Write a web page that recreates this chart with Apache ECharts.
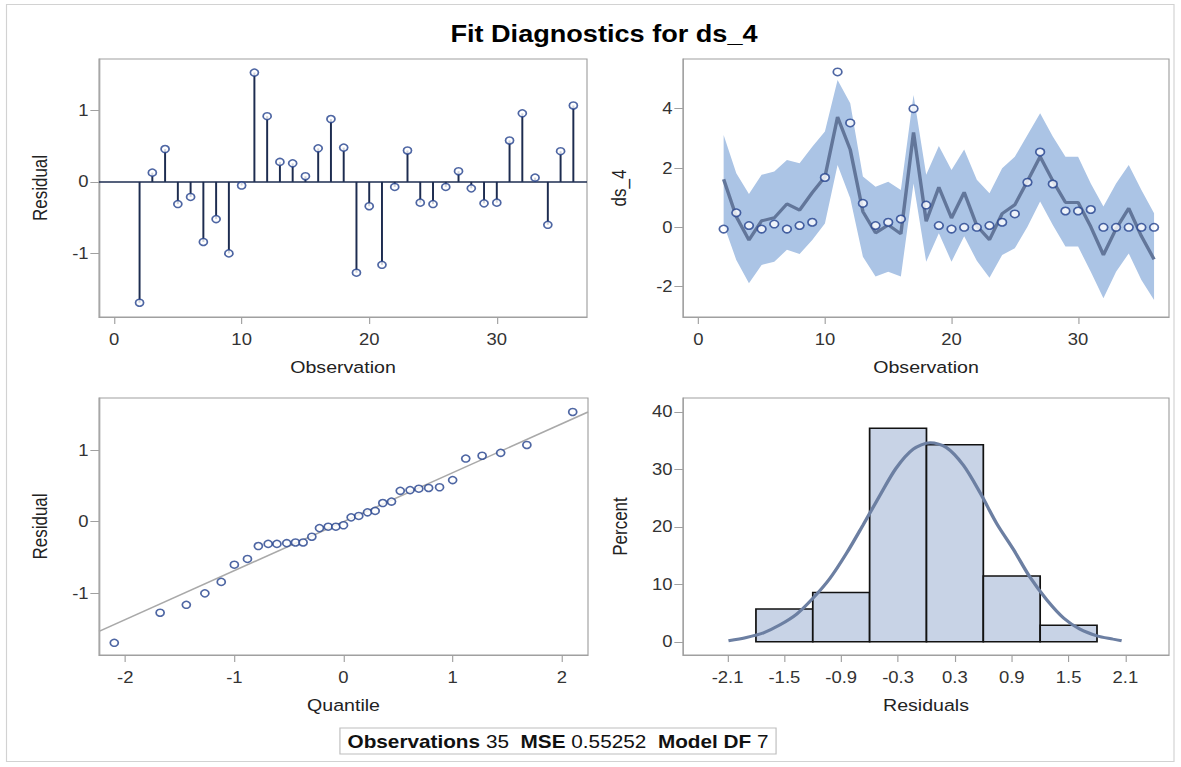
<!DOCTYPE html>
<html>
<head>
<meta charset="utf-8">
<title>Fit Diagnostics for ds_4</title>
<script src="https://cdn.jsdelivr.net/npm/echarts@6/dist/echarts.min.js"></script>
<style>
  html, body { margin: 0; padding: 0; background: #fff; overflow: hidden; }
  /* the panel is laid out 1024 wide and widened to 1181 on screen */
  #chart { width: 1024px; height: 767px; transform: scaleX(1.1533203); transform-origin: 0 0; }
</style>
</head>
<body>
<div id="chart"></div>
<script>
// ---- data ----
const observation = [2, 3, 4, 5, 6, 7, 8, 9, 10, 11, 12, 13, 14, 15, 16, 17, 18, 19,
  20, 21, 22, 23, 24, 25, 26, 27, 28, 29, 30, 31, 32, 33, 34, 35, 36];
const residual = [-1.69, 0.13, 0.46, -0.31, -0.21, -0.84, -0.52, -1.0, -0.05, 1.53,
  0.92, 0.28, 0.26, 0.08, 0.47, 0.88, 0.48, -1.27, -0.34, -1.16, -0.07, 0.44, -0.29,
  -0.31, -0.07, 0.15, -0.09, -0.3, -0.29, 0.58, 0.96, 0.06, -0.6, 0.43, 1.07];
const ds4 = [-0.06, 0.49, 0.06, -0.06, 0.11, -0.06, 0.06, 0.17, 1.68, 5.24, 3.52, 0.81,
  0.06, 0.17, 0.28, 4.0, 0.75, 0.06, -0.06, 0, 0, 0.06, 0.17, 0.45, 1.52, 2.54, 1.46,
  0.55, 0.55, 0.6, 0, 0, 0, 0, 0];
const predicted = [1.62, 0.36, -0.43, 0.22, 0.32, 0.79, 0.58, 1.17, 1.7, 3.72, 2.62,
  0.53, -0.19, 0.08, -0.22, 3.2, 0.2, 1.35, 0.31, 1.18, 0.05, -0.42, 0.46, 0.76, 1.56,
  2.38, 1.57, 0.84, 0.84, 0.02, -0.93, -0.05, 0.64, -0.3, -1.08];
const upper95 = [3.11, 1.82, 1.12, 1.77, 1.88, 2.27, 2.16, 2.72, 3.23, 4.97, 4.18, 1.71,
  1.37, 1.54, 1.26, 4.46, 1.77, 2.74, 1.93, 2.62, 1.6, 1.15, 1.99, 2.38, 3.11, 3.85,
  3.06, 2.38, 2.38, 1.48, 0.7, 1.48, 2.1, 1.26, 0.47];
const lower95 = [0.1, -1.1, -1.89, -1.27, -1.16, -0.76, -0.9, -0.43, 0.13, 2.1, 0.98,
  -0.99, -1.66, -1.5, -1.66, 1.48, -1.16, -0.2, -1.16, -0.3, -1.13, -1.7, -0.93, -0.71,
  0.02, 0.87, 0.08, -0.65, -0.65, -1.5, -2.39, -1.5, -0.88, -1.78, -2.45];

const normalQuantile = [-2.1, -1.68, -1.44, -1.27, -1.12, -1.0, -0.88, -0.78, -0.69,
  -0.61, -0.52, -0.44, -0.37, -0.29, -0.22, -0.14, -0.07, 0, 0.07, 0.14, 0.22, 0.29,
  0.36, 0.44, 0.52, 0.61, 0.69, 0.78, 0.88, 1.0, 1.12, 1.27, 1.44, 1.68, 2.1];
const orderedResidual = [-1.69, -1.27, -1.16, -1.0, -0.84, -0.6, -0.52, -0.34, -0.31,
  -0.31, -0.3, -0.29, -0.29, -0.21, -0.09, -0.07, -0.07, -0.05, 0.06, 0.08, 0.13, 0.15,
  0.26, 0.28, 0.43, 0.44, 0.46, 0.47, 0.48, 0.58, 0.88, 0.92, 0.96, 1.07, 1.53];
const qqLineQuantile = [-2.24, 2.24];
const qqLineResidual = [-1.53, 1.53];

const binEdges = [-1.8, -1.2, -0.6, 0, 0.6, 1.2, 1.8];
const binPercent = [5.71, 8.57, 37.14, 34.29, 11.43, 2.86];
const densityX = [-2.09, -1.9, -1.72, -1.55, -1.37, -1.2, -1.02, -0.84, -0.67, -0.49,
  -0.32, -0.14, 0.04, 0.21, 0.39, 0.57, 0.74, 0.92, 1.09, 1.27, 1.45, 1.62, 1.8, 1.97, 2.06];
const densityPct = [0.17, 0.75, 1.56, 2.9, 4.81, 7.54, 11.0, 15.5, 20.3, 25.5, 30.2,
  33.5, 34.6, 33.8, 30.7, 25.8, 20.6, 16.0, 11.3, 7.3, 4.1, 2.2, 1.04, 0.46, 0.17];

const obsTicks = [0, 10, 20, 30];
const residTicks = [-1, 0, 1];
const ds4Ticks = [-2, 0, 2, 4];
const quantileTicks = [-2, -1, 0, 1, 2];
const residualBinTicks = [-2.1, -1.5, -0.9, -0.3, 0.3, 0.9, 1.5, 2.1];
const percentTicks = [0, 10, 20, 30, 40];

const nObservations = 35;
const mseValue = '0.55252';
const modelDF = 7;

// ---- layout helpers ----
const STRETCH = 1181 / 1024;           // horizontal widening applied by CSS
const px = x => x / STRETCH;            // screen x -> layout x
const FONT = "'Liberation Sans', Arial, Helvetica, sans-serif";
const FRAME = '#a0a0a0';
const STEM = '#1d2c50';
const MARK = '#22408c';

function grid(x0, x1, y0, y1) {
  return { left: px(x0), width: px(x1) - px(x0), top: y0, height: y1 - y0,
    show: true, borderColor: FRAME, borderWidth: 1, backgroundColor: 'transparent' };
}

function axis(dir, gridIndex, min, max, ticks, name, gap, fmt) {
  const horizontal = dir === 'x';
  return {
    type: 'value', gridIndex, min, max, name,
    nameLocation: 'middle', nameGap: gap,
    nameTextStyle: { fontFamily: FONT, fontSize: 17, color: '#222' },
    axisLine: { show: true, onZero: false, lineStyle: { color: FRAME, width: 1 } },
    axisTick: { show: true, customValues: ticks, length: horizontal ? 7 : 7.5,
      lineStyle: { color: FRAME, width: 1 } },
    axisLabel: { show: true, customValues: ticks, margin: horizontal ? 14 : 9,
      fontFamily: FONT, fontSize: 16, color: '#333', formatter: fmt },
    splitLine: { show: false }
  };
}

const markerStyle = { color: '#ffffff', borderColor: MARK, borderWidth: 1.5 };

const option = {
  animation: false,
  backgroundColor: '#ffffff',
  grid: [
    grid(99, 587, 59, 317),
    grid(683, 1169, 59, 317),
    grid(99, 588, 398, 655),
    grid(683, 1169, 398, 655)
  ],
  xAxis: [
    axis('x', 0, -1.18, 37.07, obsTicks, 'Observation', 41),
    axis('x', 1, -1.21, 37.18, obsTicks, 'Observation', 41),
    axis('x', 2, -2.24, 2.24, quantileTicks, 'Quantile', 41),
    axis('x', 3, -2.57, 2.56, residualBinTicks, 'Residuals', 41, v => v.toFixed(1))
  ],
  yAxis: [
    axis('y', 0, -1.89, 1.72, residTicks, 'Residual', 43),
    axis('y', 1, -3.025, 5.676, ds4Ticks, 'ds_4', 47),
    axis('y', 2, -1.86, 1.725, residTicks, 'Residual', 43),
    axis('y', 3, -2.3, 42.4, percentTicks, 'Percent', 46)
  ],
  graphic: [
    { type: 'rect', silent: true, z: 0,
      shape: { x: px(6.5), y: 4.5, width: px(1174) - px(6.5), height: 757 },
      style: { fill: 'none', stroke: '#d2d2d2', lineWidth: 1 } },
    { type: 'text', silent: true, x: px(604), y: 34,
      style: { text: 'Fit Diagnostics for ds_4', fill: '#000', align: 'center',
        verticalAlign: 'middle', font: 'bold 23.5px ' + FONT } },
    { type: 'text', silent: true, x: px(558), y: 741,
      style: {
        text: '{b|Observations} ' + nObservations + '  {b|MSE} ' + mseValue +
              '  {b|Model DF} ' + modelDF,
        fill: '#111', align: 'center', verticalAlign: 'middle',
        fontFamily: FONT, fontSize: 18,
        padding: [4, 6, 3, 6], borderColor: '#bdbdbd', borderWidth: 1,
        backgroundColor: '#fff',
        rich: { b: { fontFamily: FONT, fontSize: 18, fontWeight: 'bold', fill: '#111' } }
      } }
  ],
  series: [
    // residual by observation: zero line, stems, markers
    { type: 'line', xAxisIndex: 0, yAxisIndex: 0, silent: true, symbol: 'none', z: 2,
      data: [[-1.18, 0], [37.07, 0]], lineStyle: { color: STEM, width: 1.5 } },
    { type: 'custom', xAxisIndex: 0, yAxisIndex: 0, silent: true, z: 3,
      encode: { x: 0, y: 1 },
      data: observation.map((o, i) => [o, residual[i]]),
      renderItem: (params, api) => {
        const a = api.coord([api.value(0), 0]);
        const b = api.coord([api.value(0), api.value(1)]);
        return { type: 'line', shape: { x1: a[0], y1: a[1], x2: b[0], y2: b[1] },
          style: { stroke: STEM, lineWidth: 1.7 } };
      } },
    { type: 'scatter', xAxisIndex: 0, yAxisIndex: 0, silent: true, z: 4,
      symbol: 'circle', symbolSize: 7, itemStyle: markerStyle,
      data: observation.map((o, i) => [o, residual[i]]) },

    // ds_4 with predicted values and 95% limits
    { type: 'custom', xAxisIndex: 1, yAxisIndex: 1, silent: true, z: 2,
      encode: { x: 0, y: 1 },
      data: [[observation[0], upper95[0]]],
      renderItem: (params, api) => {
        const pts = [];
        for (let i = 0; i < observation.length; i++) pts.push(api.coord([observation[i], upper95[i]]));
        for (let i = observation.length - 1; i >= 0; i--) pts.push(api.coord([observation[i], lower95[i]]));
        return { type: 'polygon', shape: { points: pts }, style: { fill: '#abc4e5' } };
      } },
    { type: 'line', xAxisIndex: 1, yAxisIndex: 1, silent: true, symbol: 'none', z: 3,
      data: observation.map((o, i) => [o, predicted[i]]),
      lineStyle: { color: '#62769a', width: 3 } },
    { type: 'scatter', xAxisIndex: 1, yAxisIndex: 1, silent: true, z: 4,
      symbol: 'circle', symbolSize: 7.5, itemStyle: markerStyle,
      data: observation.map((o, i) => [o, ds4[i]]) },

    // normal quantile plot
    { type: 'line', xAxisIndex: 2, yAxisIndex: 2, silent: true, symbol: 'none', z: 2,
      data: qqLineQuantile.map((q, i) => [q, qqLineResidual[i]]),
      lineStyle: { color: '#a9a9a9', width: 1.5 } },
    { type: 'scatter', xAxisIndex: 2, yAxisIndex: 2, silent: true, z: 4,
      symbol: 'circle', symbolSize: 7, itemStyle: markerStyle,
      data: normalQuantile.map((q, i) => [q, orderedResidual[i]]) },

    // residual histogram with normal density
    { type: 'custom', xAxisIndex: 3, yAxisIndex: 3, silent: true, z: 2,
      encode: { x: [0, 1], y: 2 },
      data: binPercent.map((p, i) => [binEdges[i], binEdges[i + 1], p]),
      renderItem: (params, api) => {
        const a = api.coord([api.value(0), 0]);
        const b = api.coord([api.value(1), api.value(2)]);
        return { type: 'rect',
          shape: { x: a[0], y: b[1], width: b[0] - a[0], height: a[1] - b[1] },
          style: { fill: '#c8d3e6', stroke: '#121212', lineWidth: 1.5 } };
      } },
    { type: 'line', xAxisIndex: 3, yAxisIndex: 3, silent: true, symbol: 'none', z: 3,
      smooth: 0.3,
      data: densityX.map((x, i) => [x, densityPct[i]]),
      lineStyle: { color: '#6c7fa2', width: 3 } }
  ]
};

const chart = echarts.init(document.getElementById('chart'), null, { renderer: 'svg' });
chart.setOption(option);
</script>
</body>
</html>
